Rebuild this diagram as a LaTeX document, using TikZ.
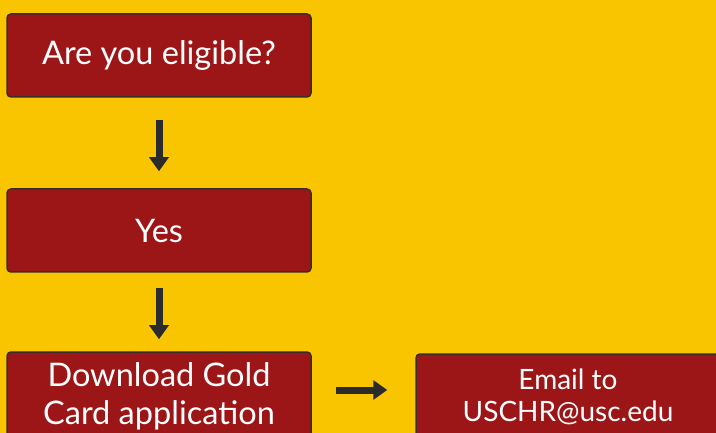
\documentclass[tikz,border=0pt]{standalone}
\usepackage{fontspec}
\setmainfont{Lato}
\usetikzlibrary{arrows.meta, positioning}
\usepackage{xcolor}
\definecolor{uscgold}{HTML}{F9C400}
\definecolor{usccard}{HTML}{9C1517}
\definecolor{uscedge}{HTML}{3A2C2C}
\definecolor{uscarrow}{HTML}{2B2B2B}

\begin{document}
\begin{tikzpicture}[x=1pt,y=-1pt]
		\tikzstyle{box}=[draw=uscedge, line width=1.5pt, fill=usccard, rounded corners=4pt,
		  text=white, align=center, minimum width=304pt, inner sep=0pt]
		\tikzstyle{flow}=[draw=uscarrow, line width=7pt,
		  -{Triangle[width=19pt,length=14pt]}]
		\clip (0,0) rectangle (716,433);
		\fill[uscgold] (0,0) rectangle (716,433);
		\node[box, minimum height=83pt, font=\fontsize{32.5}{38}\selectfont] (elig) at (159,55.5) {Are you eligible?};
		\node[box, minimum height=83pt, font=\fontsize{32.5}{38}\selectfont] (yes) at (159,230.5) {Yes};
		\node[box, minimum height=88pt, font=\fontsize{32.5}{38}\selectfont] (dl) at (159,396) {Download Gold\\Card application};
		\node[box, minimum height=86pt, font=\fontsize{28}{32}\selectfont] (mail) at (568,397) {Email to\\USCHR@usc.edu};
		\draw[flow, shorten <=22pt, shorten >=17pt] (elig) -- (yes);
		\draw[flow, shorten <=15pt, shorten >=12pt] (yes) -- (dl);
		\draw[flow, shorten <=24pt, shorten >=28pt] ([yshift=6pt]dl.east) -- ([yshift=6pt]dl.east -| mail.west);
\end{tikzpicture}
\end{document}
